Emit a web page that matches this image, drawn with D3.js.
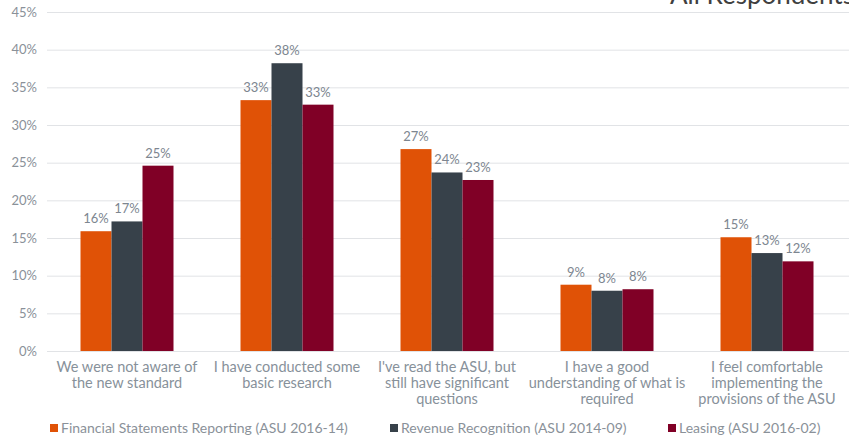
<html>
<meta charset="utf-8">

<head>
    <script src="https://d3js.org/d3.v7.min.js"></script>
    <style>
        body {
            margin: 0;
        }

        * {
            font-family: Lato, "Open Sans", sans-serif;
        }

        .gridlines .domain {
            display: none;
        }

        .gridlines line {
            stroke: #e1e3e6;
        }
    </style>
</head>

<body>
    <svg id="chart" width="849" height="438"></svg>

    <script>
        // data
        const categories = [
            ["We were not aware of", "the new standard"],
            ["I have conducted some", "basic research"],
            ["I've read the ASU, but", "still have significant", "questions"],
            ["I have a good", "understanding of what is", "required"],
            ["I feel comfortable", "implementing the", "provisions of the ASU"]
        ];
        const seriesNames = ["Financial Statements Reporting (ASU 2016-14)", "Revenue Recognition (ASU 2014-09)", "Leasing (ASU 2016-02)"];
        const financial = [15.9, 33.3, 26.8, 8.8, 15.1];
        const revenue = [17.2, 38.2, 23.7, 8.0, 13.0];
        const leasing = [24.6, 32.7, 22.7, 8.2, 11.9];
        const yTicks = [0, 5, 10, 15, 20, 25, 30, 35, 40, 45];
        const colors = ["#e05206", "#37414a", "#800026"];

        const svg = d3.select("svg#chart");
        const margin = { top: 12, right: 2, bottom: 87, left: 47 };
        const width = +svg.attr("width");
        const height = +svg.attr("height");
        const chartWidth = width - margin.left - margin.right;
        const chartHeight = height - margin.top - margin.bottom;

        const series = [financial, revenue, leasing];

        const xScale = d3.scaleBand().domain(d3.range(categories.length)).range([0, chartWidth]);
        const innerScale = d3.scaleBand().domain(d3.range(series.length))
            .range([(xScale.bandwidth() - 93) / 2, (xScale.bandwidth() + 93) / 2]);
        const yScale = d3.scaleLinear().domain([0, 45]).range([chartHeight, 0]);

        const chartArea = svg.append("g").attr("transform", `translate(${margin.left},${margin.top})`);

        // gridlines
        chartArea.append("g")
            .attr("class", "gridlines")
            .call(d3.axisLeft(yScale).tickValues(yTicks).tickSize(-chartWidth - 2).tickFormat(""));

        // y labels
        chartArea.selectAll("text.ytick").data(yTicks)
            .join("text")
            .attr("class", "ytick")
            .attr("x", -10)
            .attr("y", d => yScale(d))
            .attr("dy", "0.35em")
            .attr("text-anchor", "end")
            .style("font-size", "13px")
            .style("fill", "#8a9199")
            .text(d => d + "%");

        // bars
        const groups = chartArea.selectAll("g.series").data(series)
            .join("g")
            .attr("class", "series")
            .attr("fill", (d, i) => colors[i]);

        groups.each(function (vals, si) {
            const g = d3.select(this);
            g.selectAll("rect").data(vals)
                .join("rect")
                .attr("x", (d, ci) => xScale(ci) + innerScale(si))
                .attr("width", innerScale.bandwidth())
                .attr("y", d => yScale(d))
                .attr("height", d => chartHeight - yScale(d));

            g.selectAll("text").data(vals)
                .join("text")
                .attr("x", (d, ci) => xScale(ci) + innerScale(si) + innerScale.bandwidth() / 2)
                .attr("y", d => yScale(d) - 8)
                .attr("text-anchor", "middle")
                .style("font-size", "13px")
                .style("fill", "#7d8690")
                .text(d => Math.round(d) + "%");
        });

        // category labels
        const catLabels = chartArea.selectAll("text.cat").data(categories)
            .join("text")
            .attr("class", "cat")
            .attr("text-anchor", "middle")
            .style("font-size", "14.5px")
            .style("fill", "#87919a");

        catLabels.selectAll("tspan").data((d, i) => d.map(line => ({ line, i })))
            .join("tspan")
            .attr("x", d => xScale(d.i) + xScale.bandwidth() / 2)
            .attr("y", (d, j) => chartHeight + 21 + j * 16)
            .text(d => d.line);

        // legend
        const legendX = [50, 390, 668];
        const legend = svg.selectAll("g.legend").data(seriesNames)
            .join("g")
            .attr("class", "legend")
            .attr("transform", (d, i) => `translate(${legendX[i]},428)`);

        legend.append("rect")
            .attr("x", 0)
            .attr("y", -4)
            .attr("width", 8)
            .attr("height", 8)
            .attr("fill", (d, i) => colors[i]);

        legend.append("text")
            .attr("x", 11)
            .attr("dy", "0.35em")
            .style("font-size", "14px")
            .style("fill", "#8a9199")
            .text(d => d);

        // title, clipped at the top and right like the source
        svg.append("text")
            .attr("x", 670)
            .attr("y", 4)
            .style("font-size", "26px")
            .style("fill", "#404040")
            .text("All Respondents");
    </script>
</body>

</html>
